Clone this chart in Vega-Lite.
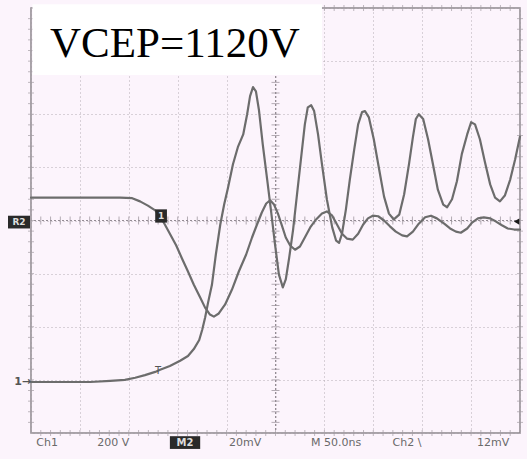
{
  "$schema": "https://vega.github.io/schema/vega-lite/v6.json",
  "width": 489,
  "height": 425,
  "autosize": {"type": "none"},
  "padding": {"left": 31, "top": 8, "right": 7, "bottom": 26},
  "background": "#fcf4fc",
  "config": {
    "view": {"stroke": "#8c868c", "strokeWidth": 1.5},
    "axis": {"labels": false, "ticks": false, "domain": false, "title": null, "grid": true, "gridDash": [1, 3], "gridColor": "#b4acb4", "gridWidth": 1}
  },
  "data": {"values": [{}]},
  "datasets": {
    "traces": [
      {"trace": "ch1", "t": 0, "v": -3.04}, {"trace": "ch1", "t": 0.59, "v": -3.04}, {"trace": "ch1", "t": 1.21, "v": -3.04}, {"trace": "ch1", "t": 1.62, "v": -3.02}, {"trace": "ch1", "t": 1.92, "v": -3.0}, {"trace": "ch1", "t": 2.13, "v": -2.96}, {"trace": "ch1", "t": 2.33, "v": -2.91}, {"trace": "ch1", "t": 2.54, "v": -2.85}, {"trace": "ch1", "t": 2.64, "v": -2.81}, {"trace": "ch1", "t": 2.84, "v": -2.74}, {"trace": "ch1", "t": 3.05, "v": -2.64}, {"trace": "ch1", "t": 3.21, "v": -2.55}, {"trace": "ch1", "t": 3.33, "v": -2.42}, {"trace": "ch1", "t": 3.44, "v": -2.25}, {"trace": "ch1", "t": 3.5, "v": -2.06}, {"trace": "ch1", "t": 3.56, "v": -1.83}, {"trace": "ch1", "t": 3.62, "v": -1.55}, {"trace": "ch1", "t": 3.7, "v": -1.21}, {"trace": "ch1", "t": 3.78, "v": -0.64}, {"trace": "ch1", "t": 3.87, "v": -0.08}, {"trace": "ch1", "t": 3.95, "v": 0.3}, {"trace": "ch1", "t": 4.03, "v": 0.62}, {"trace": "ch1", "t": 4.13, "v": 1.06}, {"trace": "ch1", "t": 4.23, "v": 1.38}, {"trace": "ch1", "t": 4.34, "v": 1.62}, {"trace": "ch1", "t": 4.42, "v": 2.0}, {"trace": "ch1", "t": 4.48, "v": 2.34}, {"trace": "ch1", "t": 4.54, "v": 2.51}, {"trace": "ch1", "t": 4.6, "v": 2.43}, {"trace": "ch1", "t": 4.66, "v": 2.09}, {"trace": "ch1", "t": 4.74, "v": 1.43}, {"trace": "ch1", "t": 4.83, "v": 0.77}, {"trace": "ch1", "t": 4.91, "v": 0.17}, {"trace": "ch1", "t": 4.99, "v": -0.45}, {"trace": "ch1", "t": 5.07, "v": -1.02}, {"trace": "ch1", "t": 5.15, "v": -1.26}, {"trace": "ch1", "t": 5.21, "v": -1.11}, {"trace": "ch1", "t": 5.28, "v": -0.7}, {"trace": "ch1", "t": 5.36, "v": -0.17}, {"trace": "ch1", "t": 5.44, "v": 0.49}, {"trace": "ch1", "t": 5.52, "v": 1.15}, {"trace": "ch1", "t": 5.6, "v": 1.81}, {"trace": "ch1", "t": 5.66, "v": 2.13}, {"trace": "ch1", "t": 5.73, "v": 2.17}, {"trace": "ch1", "t": 5.79, "v": 2.06}, {"trace": "ch1", "t": 5.87, "v": 1.62}, {"trace": "ch1", "t": 5.95, "v": 1.06}, {"trace": "ch1", "t": 6.05, "v": 0.4}, {"trace": "ch1", "t": 6.16, "v": -0.13}, {"trace": "ch1", "t": 6.24, "v": -0.38}, {"trace": "ch1", "t": 6.3, "v": -0.42}, {"trace": "ch1", "t": 6.36, "v": -0.25}, {"trace": "ch1", "t": 6.44, "v": 0.21}, {"trace": "ch1", "t": 6.52, "v": 0.77}, {"trace": "ch1", "t": 6.61, "v": 1.34}, {"trace": "ch1", "t": 6.69, "v": 1.81}, {"trace": "ch1", "t": 6.77, "v": 2.04}, {"trace": "ch1", "t": 6.83, "v": 2.06}, {"trace": "ch1", "t": 6.91, "v": 1.94}, {"trace": "ch1", "t": 7.01, "v": 1.53}, {"trace": "ch1", "t": 7.12, "v": 0.96}, {"trace": "ch1", "t": 7.22, "v": 0.45}, {"trace": "ch1", "t": 7.32, "v": 0.13}, {"trace": "ch1", "t": 7.42, "v": 0.02}, {"trace": "ch1", "t": 7.53, "v": 0.11}, {"trace": "ch1", "t": 7.63, "v": 0.49}, {"trace": "ch1", "t": 7.73, "v": 1.06}, {"trace": "ch1", "t": 7.81, "v": 1.57}, {"trace": "ch1", "t": 7.87, "v": 1.91}, {"trace": "ch1", "t": 7.93, "v": 2.0}, {"trace": "ch1", "t": 8.02, "v": 1.91}, {"trace": "ch1", "t": 8.12, "v": 1.53}, {"trace": "ch1", "t": 8.22, "v": 1.06}, {"trace": "ch1", "t": 8.32, "v": 0.58}, {"trace": "ch1", "t": 8.43, "v": 0.3}, {"trace": "ch1", "t": 8.51, "v": 0.25}, {"trace": "ch1", "t": 8.61, "v": 0.4}, {"trace": "ch1", "t": 8.71, "v": 0.74}, {"trace": "ch1", "t": 8.81, "v": 1.25}, {"trace": "ch1", "t": 8.92, "v": 1.62}, {"trace": "ch1", "t": 9.0, "v": 1.85}, {"trace": "ch1", "t": 9.08, "v": 1.81}, {"trace": "ch1", "t": 9.18, "v": 1.53}, {"trace": "ch1", "t": 9.28, "v": 1.11}, {"trace": "ch1", "t": 9.39, "v": 0.68}, {"trace": "ch1", "t": 9.49, "v": 0.43}, {"trace": "ch1", "t": 9.59, "v": 0.36}, {"trace": "ch1", "t": 9.69, "v": 0.47}, {"trace": "ch1", "t": 9.8, "v": 0.77}, {"trace": "ch1", "t": 9.9, "v": 1.15}, {"trace": "ch1", "t": 10.0, "v": 1.58},
      {"trace": "ch2", "t": 0, "v": 0.43}, {"trace": "ch2", "t": 0.59, "v": 0.43}, {"trace": "ch2", "t": 1.21, "v": 0.43}, {"trace": "ch2", "t": 1.82, "v": 0.43}, {"trace": "ch2", "t": 2.07, "v": 0.42}, {"trace": "ch2", "t": 2.23, "v": 0.36}, {"trace": "ch2", "t": 2.39, "v": 0.28}, {"trace": "ch2", "t": 2.54, "v": 0.19}, {"trace": "ch2", "t": 2.64, "v": 0.08}, {"trace": "ch2", "t": 2.74, "v": -0.08}, {"trace": "ch2", "t": 2.84, "v": -0.25}, {"trace": "ch2", "t": 2.97, "v": -0.47}, {"trace": "ch2", "t": 3.09, "v": -0.72}, {"trace": "ch2", "t": 3.21, "v": -0.96}, {"trace": "ch2", "t": 3.33, "v": -1.21}, {"trace": "ch2", "t": 3.46, "v": -1.45}, {"trace": "ch2", "t": 3.56, "v": -1.64}, {"trace": "ch2", "t": 3.66, "v": -1.77}, {"trace": "ch2", "t": 3.74, "v": -1.81}, {"trace": "ch2", "t": 3.84, "v": -1.75}, {"trace": "ch2", "t": 3.97, "v": -1.58}, {"trace": "ch2", "t": 4.11, "v": -1.3}, {"trace": "ch2", "t": 4.25, "v": -0.96}, {"trace": "ch2", "t": 4.4, "v": -0.64}, {"trace": "ch2", "t": 4.52, "v": -0.32}, {"trace": "ch2", "t": 4.62, "v": -0.08}, {"trace": "ch2", "t": 4.72, "v": 0.15}, {"trace": "ch2", "t": 4.81, "v": 0.32}, {"trace": "ch2", "t": 4.89, "v": 0.38}, {"trace": "ch2", "t": 4.97, "v": 0.3}, {"trace": "ch2", "t": 5.05, "v": 0.13}, {"trace": "ch2", "t": 5.13, "v": -0.09}, {"trace": "ch2", "t": 5.21, "v": -0.32}, {"trace": "ch2", "t": 5.3, "v": -0.47}, {"trace": "ch2", "t": 5.4, "v": -0.55}, {"trace": "ch2", "t": 5.5, "v": -0.49}, {"trace": "ch2", "t": 5.6, "v": -0.32}, {"trace": "ch2", "t": 5.71, "v": -0.13}, {"trace": "ch2", "t": 5.83, "v": 0.02}, {"trace": "ch2", "t": 5.95, "v": 0.13}, {"trace": "ch2", "t": 6.05, "v": 0.17}, {"trace": "ch2", "t": 6.16, "v": 0.09}, {"trace": "ch2", "t": 6.26, "v": -0.08}, {"trace": "ch2", "t": 6.36, "v": -0.25}, {"trace": "ch2", "t": 6.46, "v": -0.34}, {"trace": "ch2", "t": 6.58, "v": -0.36}, {"trace": "ch2", "t": 6.69, "v": -0.25}, {"trace": "ch2", "t": 6.79, "v": -0.08}, {"trace": "ch2", "t": 6.89, "v": 0.04}, {"trace": "ch2", "t": 6.99, "v": 0.09}, {"trace": "ch2", "t": 7.1, "v": 0.08}, {"trace": "ch2", "t": 7.22, "v": 0.0}, {"trace": "ch2", "t": 7.34, "v": -0.11}, {"trace": "ch2", "t": 7.46, "v": -0.21}, {"trace": "ch2", "t": 7.59, "v": -0.28}, {"trace": "ch2", "t": 7.69, "v": -0.3}, {"trace": "ch2", "t": 7.81, "v": -0.21}, {"trace": "ch2", "t": 7.93, "v": -0.06}, {"trace": "ch2", "t": 8.06, "v": 0.06}, {"trace": "ch2", "t": 8.18, "v": 0.09}, {"trace": "ch2", "t": 8.3, "v": 0.04}, {"trace": "ch2", "t": 8.45, "v": -0.06}, {"trace": "ch2", "t": 8.57, "v": -0.15}, {"trace": "ch2", "t": 8.69, "v": -0.21}, {"trace": "ch2", "t": 8.79, "v": -0.23}, {"trace": "ch2", "t": 8.92, "v": -0.15}, {"trace": "ch2", "t": 9.02, "v": -0.04}, {"trace": "ch2", "t": 9.14, "v": 0.04}, {"trace": "ch2", "t": 9.26, "v": 0.06}, {"trace": "ch2", "t": 9.39, "v": 0.04}, {"trace": "ch2", "t": 9.51, "v": -0.02}, {"trace": "ch2", "t": 9.63, "v": -0.09}, {"trace": "ch2", "t": 9.75, "v": -0.15}, {"trace": "ch2", "t": 9.88, "v": -0.17}, {"trace": "ch2", "t": 10.0, "v": -0.17}
    ],
    "xt": [{"t": 0.2}, {"t": 0.4}, {"t": 0.6}, {"t": 0.8}, {"t": 1}, {"t": 1.2}, {"t": 1.4}, {"t": 1.6}, {"t": 1.8}, {"t": 2}, {"t": 2.2}, {"t": 2.4}, {"t": 2.6}, {"t": 2.8}, {"t": 3}, {"t": 3.2}, {"t": 3.4}, {"t": 3.6}, {"t": 3.8}, {"t": 4}, {"t": 4.2}, {"t": 4.4}, {"t": 4.6}, {"t": 4.8}, {"t": 5}, {"t": 5.2}, {"t": 5.4}, {"t": 5.6}, {"t": 5.8}, {"t": 6}, {"t": 6.2}, {"t": 6.4}, {"t": 6.6}, {"t": 6.8}, {"t": 7}, {"t": 7.2}, {"t": 7.4}, {"t": 7.6}, {"t": 7.8}, {"t": 8}, {"t": 8.2}, {"t": 8.4}, {"t": 8.6}, {"t": 8.8}, {"t": 9}, {"t": 9.2}, {"t": 9.4}, {"t": 9.6}, {"t": 9.8}],
    "yt": [{"v": -3.8}, {"v": -3.6}, {"v": -3.4}, {"v": -3.2}, {"v": -3}, {"v": -2.8}, {"v": -2.6}, {"v": -2.4}, {"v": -2.2}, {"v": -2}, {"v": -1.8}, {"v": -1.6}, {"v": -1.4}, {"v": -1.2}, {"v": -1}, {"v": -0.8}, {"v": -0.6}, {"v": -0.4}, {"v": -0.2}, {"v": 0}, {"v": 0.2}, {"v": 0.4}, {"v": 0.6}, {"v": 0.8}, {"v": 1}, {"v": 1.2}, {"v": 1.4}, {"v": 1.6}, {"v": 1.8}, {"v": 2}, {"v": 2.2}, {"v": 2.4}, {"v": 2.6}, {"v": 2.8}, {"v": 3}, {"v": 3.2}, {"v": 3.4}, {"v": 3.6}, {"v": 3.8}],
    "labels": [
      {"label": "Ch1", "pos": 0.33},
      {"label": "200 V", "pos": 1.68},
      {"label": "20mV", "pos": 4.38},
      {"label": "M 50.0ns", "pos": 6.24},
      {"label": "Ch2 \\", "pos": 7.69},
      {"label": "12mV", "pos": 9.45}
    ]
  },
  "layer": [
    {
      "data": {"name": "traces"},
      "mark": {"type": "line", "opacity": 0},
      "encoding": {
        "x": {"field": "t", "type": "quantitative", "scale": {"domain": [0, 10], "nice": false, "zero": false}, "axis": {"values": [0, 1, 2, 3, 4, 5, 6, 7, 8, 9, 10]}},
        "y": {"field": "v", "type": "quantitative", "scale": {"domain": [-4, 4], "nice": false, "zero": false}, "axis": {"values": [-4, -3, -2, -1, 0, 1, 2, 3, 4]}},
        "detail": {"field": "trace"}
      }
    },
    {
      "mark": {"type": "rule", "color": "#948c94", "strokeWidth": 1, "strokeDash": [2, 2]},
      "encoding": {"x": {"datum": 5, "type": "quantitative"}}
    },
    {
      "mark": {"type": "rule", "color": "#948c94", "strokeWidth": 1, "strokeDash": [2, 2]},
      "encoding": {"y": {"datum": 0, "type": "quantitative"}}
    },
    {
      "data": {"name": "xt"},
      "mark": {"type": "tick", "orient": "vertical", "size": 8, "thickness": 1, "color": "#948c94"},
      "encoding": {"x": {"field": "t", "type": "quantitative"}, "y": {"datum": 0, "type": "quantitative"}}
    },
    {
      "data": {"name": "xt"},
      "mark": {"type": "tick", "orient": "vertical", "size": 6, "thickness": 1, "color": "#a49ca4"},
      "encoding": {"x": {"field": "t", "type": "quantitative"}, "y": {"datum": 4, "type": "quantitative"}}
    },
    {
      "data": {"name": "xt"},
      "mark": {"type": "tick", "orient": "vertical", "size": 6, "thickness": 1, "color": "#a49ca4"},
      "encoding": {"x": {"field": "t", "type": "quantitative"}, "y": {"datum": -4, "type": "quantitative"}}
    },
    {
      "data": {"name": "yt"},
      "mark": {"type": "tick", "orient": "horizontal", "size": 8, "thickness": 1, "color": "#948c94"},
      "encoding": {"y": {"field": "v", "type": "quantitative"}, "x": {"datum": 5, "type": "quantitative"}}
    },
    {
      "data": {"name": "yt"},
      "mark": {"type": "tick", "orient": "horizontal", "size": 6, "thickness": 1, "color": "#a49ca4"},
      "encoding": {"y": {"field": "v", "type": "quantitative"}, "x": {"datum": 0, "type": "quantitative"}}
    },
    {
      "data": {"name": "yt"},
      "mark": {"type": "tick", "orient": "horizontal", "size": 6, "thickness": 1, "color": "#a49ca4"},
      "encoding": {"y": {"field": "v", "type": "quantitative"}, "x": {"datum": 10, "type": "quantitative"}}
    },
    {
      "mark": {"type": "rect", "color": "#ffffff", "clip": false},
      "encoding": {
        "x": {"datum": 0.03, "type": "quantitative"}, "x2": {"datum": 5.95},
        "y": {"datum": 4.07, "type": "quantitative"}, "y2": {"datum": 2.74}
      }
    },
    {
      "data": {"name": "traces"},
      "mark": {"type": "line", "color": "#6c6c6c", "strokeWidth": 2.2, "strokeJoin": "round", "strokeCap": "round"},
      "encoding": {
        "x": {"field": "t", "type": "quantitative"},
        "y": {"field": "v", "type": "quantitative"},
        "detail": {"field": "trace"}
      }
    },
    {
      "mark": {"type": "rect", "color": "#2a2a2a", "clip": false},
      "encoding": {
        "x": {"datum": 2.54, "type": "quantitative"}, "x2": {"datum": 2.78},
        "y": {"datum": 0.21, "type": "quantitative"}, "y2": {"datum": -0.04}
      }
    },
    {
      "mark": {"type": "text", "text": "1", "color": "#dddddd", "fontSize": 9, "font": "DejaVu Sans", "fontWeight": "bold", "align": "center", "baseline": "middle"},
      "encoding": {"x": {"datum": 2.66, "type": "quantitative"}, "y": {"datum": 0.085, "type": "quantitative"}}
    },
    {
      "mark": {"type": "text", "text": "T", "color": "#555555", "fontSize": 10, "font": "DejaVu Sans", "align": "center", "baseline": "middle"},
      "encoding": {"x": {"datum": 2.6, "type": "quantitative"}, "y": {"datum": -2.83, "type": "quantitative"}}
    },
    {
      "mark": {"type": "point", "shape": "triangle-left", "filled": true, "color": "#1a1a1a", "size": 40, "clip": false, "opacity": 1},
      "encoding": {"x": {"datum": 9.93, "type": "quantitative"}, "y": {"datum": -0.02, "type": "quantitative"}}
    },
    {
      "mark": {"type": "rect", "color": "#2a2a2a", "clip": false},
      "encoding": {
        "x": {"datum": -0.47, "type": "quantitative"}, "x2": {"datum": -0.02},
        "y": {"datum": 0.09, "type": "quantitative"}, "y2": {"datum": -0.15}
      }
    },
    {
      "mark": {"type": "text", "text": "R2", "color": "#dddddd", "fontSize": 9, "font": "DejaVu Sans", "fontWeight": "bold", "align": "center", "baseline": "middle"},
      "encoding": {"x": {"datum": -0.245, "type": "quantitative"}, "y": {"datum": -0.03, "type": "quantitative"}}
    },
    {
      "mark": {"type": "text", "text": "1→", "color": "#555555", "fontSize": 11, "font": "DejaVu Sans", "fontWeight": "bold", "align": "right", "baseline": "middle"},
      "encoding": {"x": {"datum": 0, "type": "quantitative"}, "y": {"datum": -3.04, "type": "quantitative"}}
    },
    {
      "mark": {"type": "text", "text": "VCEP=1120V", "color": "#000000", "fontSize": 43, "font": "Liberation Serif", "align": "left", "baseline": "alphabetic"},
      "encoding": {"x": {"datum": 0.39, "type": "quantitative"}, "y": {"datum": 3.075, "type": "quantitative"}}
    },
    {
      "mark": {"type": "rect", "color": "#2a2a2a", "clip": false},
      "encoding": {
        "x": {"datum": 2.84, "type": "quantitative"}, "x2": {"datum": 3.46},
        "y": {"datum": -4.06, "type": "quantitative"}, "y2": {"datum": -4.3}
      }
    },
    {
      "mark": {"type": "text", "text": "M2", "color": "#dddddd", "fontSize": 10, "font": "DejaVu Sans", "fontWeight": "bold", "align": "center", "baseline": "middle"},
      "encoding": {"x": {"datum": 3.15, "type": "quantitative"}, "y": {"datum": -4.18, "type": "quantitative"}}
    },
    {
      "data": {"name": "labels"},
      "mark": {"type": "text", "color": "#6a6a6a", "fontSize": 11, "font": "DejaVu Sans", "align": "center", "baseline": "middle"},
      "encoding": {
        "x": {"field": "pos", "type": "quantitative"},
        "y": {"datum": -4.18, "type": "quantitative"},
        "text": {"field": "label"}
      }
    }
  ]
}
